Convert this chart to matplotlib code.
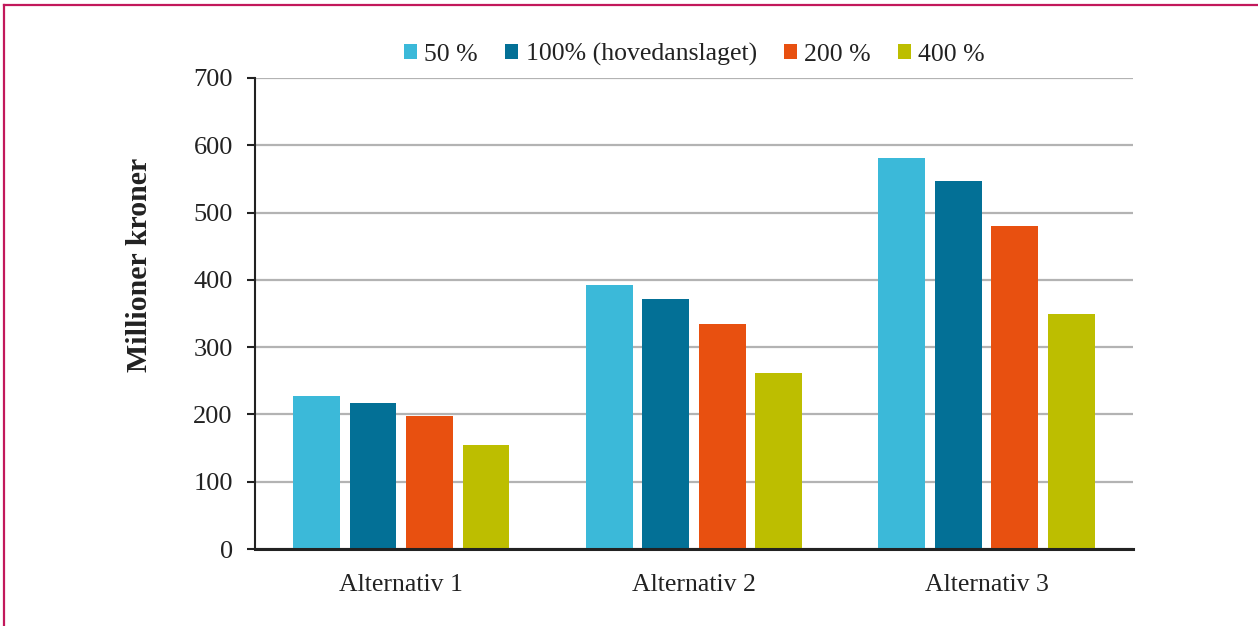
import numpy as np
import matplotlib.pyplot as plt
from matplotlib.lines import Line2D

plt.rcParams['font.family'] = ['Liberation Serif', 'DejaVu Serif']

# Kostnader per alternativ ved ulike anslag
categories = ['Alternativ 1', 'Alternativ 2', 'Alternativ 3']
series_names = ['50 %', '100% (hovedanslaget)', '200 %', '400 %']
values_50 = [228, 392, 581]
values_100 = [217, 372, 547]
values_200 = [198, 335, 480]
values_400 = [154, 261, 349]
colors = ['#3bb9d9', '#037096', '#e85010', '#bdbe00']

fig = plt.figure(figsize=(12.58, 6.26), dpi=100)
ax = fig.add_axes([0.2027, 0.1230, 0.6979, 0.7524])

x = np.arange(len(categories))
step = 0.193
width = 0.16
all_series = [values_50, values_100, values_200, values_400]
for i, (vals, name, c) in enumerate(zip(all_series, series_names, colors)):
    ax.bar(x + (i - 1.5) * step, vals, width=width, color=c, label=name, zorder=3)

ax.set_xlim(-0.5, 2.5)
ax.set_ylim(0, 700)
ax.set_yticks(range(0, 701, 100))
ax.set_xticks(x)
ax.set_xticklabels(categories, fontsize=18.5, color='#222222')
ax.tick_params(axis='x', length=0, pad=18)
ax.tick_params(axis='y', direction='out', length=6, width=1.5, labelsize=19,
               color='#222222', labelcolor='#222222', pad=10)
ax.yaxis.grid(True, color='#b3b3b3', linewidth=1.6, zorder=0)
ax.set_axisbelow(True)

for side in ['top', 'right']:
    ax.spines[side].set_visible(False)
ax.spines['left'].set_linewidth(1.5)
ax.spines['left'].set_color('#222222')
ax.spines['bottom'].set_linewidth(2.2)
ax.spines['bottom'].set_color('#222222')
ax.spines['bottom'].set_zorder(4)

# aksetittel plassert litt over midten av aksen
fig.text(0.1105, 0.577, 'Millioner kroner', rotation=90, ha='center', va='center',
         fontsize=21.5, fontweight='bold', color='#222222')

leg = fig.legend(loc='center', bbox_to_anchor=(0.552, 0.913), ncol=4, frameon=False,
                 fontsize=18.5, handlelength=0.5, handleheight=0.5, handletextpad=0.3,
                 columnspacing=1.05)
for t in leg.get_texts():
    t.set_color('#222222')

# ramme oppe og til venstre
fig.add_artist(Line2D([0.0035, 1.0], [0.9915, 0.9915], transform=fig.transFigure,
                      color='#c2185b', linewidth=1.6))
fig.add_artist(Line2D([0.0035, 0.0035], [0.0, 0.9915], transform=fig.transFigure,
                      color='#c2185b', linewidth=1.6))

fig.savefig('out.png', dpi=100)
